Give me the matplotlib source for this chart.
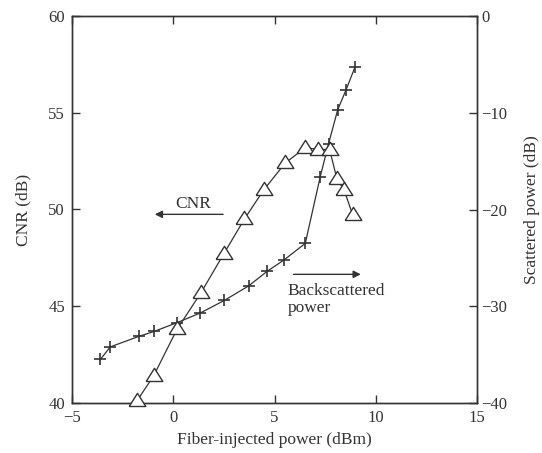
import numpy as np
import matplotlib
matplotlib.use("Agg")
import matplotlib.pyplot as plt

plt.rcParams['font.family'] = ['Liberation Serif', 'DejaVu Serif']
plt.rcParams['font.size'] = 12.5

# DATA ---------------------------------------------------------------------------------------------
cnr_power = [-1.8, -0.97, 0.18, 1.37, 2.49, 3.51, 4.46, 5.53, 6.52, 7.17, 7.72, 8.08, 8.44, 8.87]
cnr_db = [40.1, 41.4, 43.8, 45.7, 47.7, 49.5, 51.0, 52.4, 53.2, 53.1, 53.1, 51.6, 51.0, 49.7]

bs_power = [-3.6, -3.11, -1.68, -0.94, 0.18, 1.33, 2.52, 3.72, 4.63, 5.48, 6.52,
            7.26, 7.67, 8.12, 8.54, 8.97]
bs_db = [-35.5, -34.2, -33.1, -32.6, -31.7, -30.7, -29.4, -27.9, -26.4, -25.2, -23.5,
         -16.6, -13.2, -9.7, -7.6, -5.3]

x_ticks = [-5, 0, 5, 10, 15]
left_ticks = [40, 45, 50, 55, 60]
right_ticks = [-40, -30, -20, -10, 0]

# PLOT ---------------------------------------------------------------------------------------------
fig = plt.figure(figsize=(5.42, 4.53), dpi=100)
ax = fig.add_axes([72/542, 1 - 403/453, 405/542, 387/453])
ax2 = ax.twinx()
ax.set_zorder(ax2.get_zorder() + 1)
ax.patch.set_visible(False)

line_col = '#333333'
# slightly wide open triangle, like the reference
tri = [(-1, -0.6), (1, -0.6), (0, 0.98), (-1, -0.6)]
ax.plot(cnr_power, cnr_db, color=line_col, lw=0.9, marker=tri, ms=12,
        mfc='white', mec=line_col, mew=1.0, zorder=3, clip_on=False)
ax2.plot(bs_power, bs_db, color=line_col, lw=0.9, marker='+', ms=9,
         mec=line_col, mew=1.2)

ax.set_xlim(-5, 15)
ax.set_ylim(40, 60)
ax2.set_ylim(-40, 0)
ax.set_xticks(x_ticks)
ax.set_yticks(left_ticks)
ax2.set_yticks(right_ticks)
ax2.set_yticklabels(['\u221240', '\u221230', '\u221220', '\u221210', '0'])
ax.set_xticklabels(['\u22125', '0', '5', '10', '15'])

for a in (ax, ax2):
    a.tick_params(direction='in', length=6, width=1.0, colors='#333333',
                  labelcolor='#333333', labelsize=12)
    for s in a.spines.values():
        s.set_color('#333333')
        s.set_linewidth(1.0)
ax.tick_params(top=True, pad=5)
ax2.tick_params(pad=3)

ax.set_xlabel('Fiber-injected power (dBm)', color='#333333', labelpad=4)
ax.set_ylabel('CNR (dB)', color='#333333', labelpad=12)
ax2.set_ylabel('Scattered power (dB)', color='#333333', labelpad=12)

# annotations
ax.annotate('', xy=(-1.05, 49.75), xytext=(2.6, 49.75),
            arrowprops=dict(arrowstyle='-|>', color=line_col, lw=1.0, mutation_scale=11))
ax.text(1.0, 50.3, 'CNR', ha='center', va='center', color='#333333')
ax.annotate('', xy=(9.4, 46.65), xytext=(5.8, 46.65),
            arrowprops=dict(arrowstyle='-|>', color=line_col, lw=1.0, mutation_scale=11))
ax.text(5.65, 46.2, 'Backscattered\npower', ha='left', va='top', color='#333333',
        linespacing=1.05)

fig.savefig('out.png', dpi=100)
